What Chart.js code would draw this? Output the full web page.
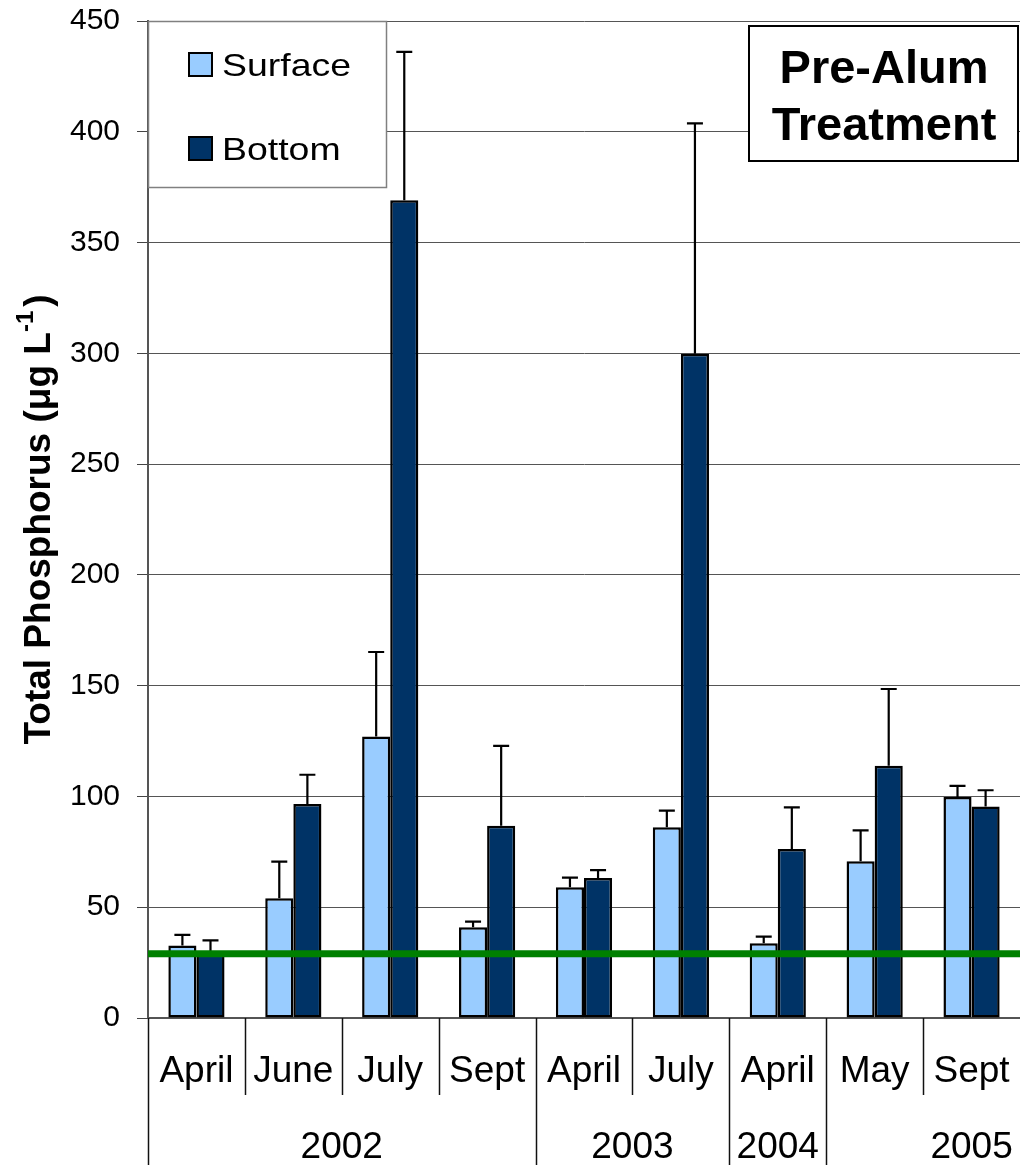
<!DOCTYPE html>
<html>
<head>
<meta charset="utf-8">
<script src="https://cdn.jsdelivr.net/npm/chart.js@4.4.1/dist/chart.umd.min.js"></script>
<style>
  html, body { margin: 0; padding: 0; background: #fff; overflow: hidden; }
  canvas { display: block; }
</style>
</head>
<body>
<canvas id="chart" width="1020" height="1165"></canvas>
<script>
// Sampling months and the year groups they belong to
const months = ['April', 'June', 'July', 'Sept', 'April', 'July', 'April', 'May', 'Sept'];
const yearLabels = ['2002', '2003', '2004', '2005'];
const yearStart = [0, 4, 6, 7];
const yearEnd = [4, 6, 7, 10];   // 2005 group runs on past the last month shown

// Mean total phosphorus (µg/L) and one standard deviation
const surfaceMean = [32.7, 54.0, 127.0, 41.0, 59.0, 86.1, 33.7, 70.7, 99.8];
const surfaceSD   = [4.8, 16.6, 38.2, 2.5, 4.4, 7.5, 3.0, 14.0, 5.0];
const bottomMean  = [29.0, 96.6, 369.1, 86.8, 63.2, 299.8, 76.3, 113.9, 95.5];
const bottomSD    = [6.0, 13.2, 67.0, 36.0, 3.5, 104.0, 18.8, 34.6, 7.3];

// Total phosphorus target level
const targetTP = 29;

// Value axis range
const yMin = 0, yMax = 450, yStep = 50;

const FONT = '"Liberation Sans", Arial, Helvetica, sans-serif';

const overlay = {
  id: 'overlay',
  afterDatasetsDraw(chart) {
    const { ctx, chartArea: a, scales: { y } } = chart;
    ctx.save();
    // upper error whiskers
    ctx.strokeStyle = '#000';
    ctx.lineWidth = 2.2;
    chart.data.datasets.forEach((ds, i) => {
      const meta = chart.getDatasetMeta(i);
      meta.data.forEach((bar, j) => {
        const top = y.getPixelForValue(ds.data[j] + ds.errors[j]);
        ctx.beginPath();
        ctx.moveTo(bar.x, bar.y);
        ctx.lineTo(bar.x, top);
        ctx.moveTo(bar.x - 8, top);
        ctx.lineTo(bar.x + 8, top);
        ctx.stroke();
      });
    });
    // target line
    const ty = y.getPixelForValue(targetTP);
    ctx.strokeStyle = '#008000';
    ctx.lineWidth = 7;
    ctx.beginPath();
    ctx.moveTo(a.left, ty);
    ctx.lineTo(a.right, ty);
    ctx.stroke();
    ctx.restore();
  },
  afterDraw(chart) {
    const { ctx, chartArea: a, scales: { x } } = chart;
    const H = chart.height;
    const w = x.getPixelForValue(1) - x.getPixelForValue(0);
    const edge = i => x.getPixelForValue(0) + (i - 0.5) * w;

    ctx.save();
    // category separators below the axis
    ctx.strokeStyle = '#111';
    ctx.lineWidth = 1.5;
    for (let i = 0; i < months.length; i++) {
      const ex = Math.round(edge(i)) + 0.5;
      const long = yearStart.includes(i);
      ctx.beginPath();
      ctx.moveTo(ex, a.bottom);
      ctx.lineTo(ex, long ? H : a.bottom + 77);
      ctx.stroke();
    }
    // year labels
    ctx.fillStyle = '#000';
    ctx.font = '37px ' + FONT;
    ctx.textAlign = 'center';
    ctx.textBaseline = 'alphabetic';
    yearLabels.forEach((lab, k) => {
      const cx = (edge(yearStart[k]) + edge(yearEnd[k])) / 2;
      ctx.fillText(lab, cx, 1158);
    });

    // legend box
    ctx.fillStyle = '#fff';
    ctx.fillRect(a.left, a.top, 239, 167);
    ctx.strokeStyle = '#808080';
    ctx.lineWidth = 1.5;
    ctx.strokeRect(a.left + 0.5, a.top + 0.5, 238, 166);
    const rows = [64.5, 148.5];
    chart.data.datasets.forEach((ds, i) => {
      const cy = rows[i];
      ctx.fillStyle = ds.backgroundColor;
      ctx.fillRect(189, cy - 11.5, 23, 23);
      ctx.strokeStyle = '#000';
      ctx.lineWidth = 2;
      ctx.strokeRect(189, cy - 11.5, 23, 23);
      ctx.save();
      ctx.translate(222, cy + 11.5);
      ctx.scale(1.17, 1);
      ctx.fillStyle = '#000';
      ctx.font = '32px ' + FONT;
      ctx.textAlign = 'left';
      ctx.textBaseline = 'alphabetic';
      ctx.fillText(ds.label, 0, 0);
      ctx.restore();
    });

    // title box
    ctx.fillStyle = '#fff';
    ctx.fillRect(748, 25, 271, 137);
    ctx.strokeStyle = '#000';
    ctx.lineWidth = 2;
    ctx.strokeRect(749, 26, 269, 135);
    ctx.fillStyle = '#000';
    ctx.font = 'bold 47px ' + FONT;
    ctx.textAlign = 'center';
    ctx.textBaseline = 'alphabetic';
    ctx.fillText('Pre-Alum', 884, 83);
    ctx.fillText('Treatment', 884, 140);

    // value axis title with superscript
    ctx.translate(50, (a.top + a.bottom) / 2);
    ctx.rotate(-Math.PI / 2);
    const main = 'bold 37px ' + FONT;
    const sup = 'bold 24px ' + FONT;
    const p1 = 'Total Phosphorus (\u03BCg L', p2 = '-1', p3 = ')';
    ctx.font = main;
    const w1 = ctx.measureText(p1).width, w3 = ctx.measureText(p3).width;
    ctx.font = sup;
    const w2 = ctx.measureText(p2).width;
    let sx = -(w1 + w2 + w3 + 4) / 2;
    ctx.textAlign = 'left';
    ctx.font = main;
    ctx.fillText(p1, sx, 0);
    sx += w1;
    ctx.font = sup;
    ctx.fillText(p2, sx, -17);
    sx += w2 + 4;
    ctx.font = main;
    ctx.fillText(p3, sx, 0);
    ctx.restore();
  }
};

new Chart(document.getElementById('chart'), {
  type: 'bar',
  data: {
    labels: months,
    datasets: [
      {
        label: 'Surface',
        data: surfaceMean,
        errors: surfaceSD,
        backgroundColor: '#99CCFF',
        borderColor: '#000',
        borderWidth: 2.5,
        borderSkipped: false
      },
      {
        label: 'Bottom',
        data: bottomMean,
        errors: bottomSD,
        backgroundColor: '#003366',
        borderColor: '#000',
        borderWidth: 2.5,
        borderSkipped: false
      }
    ]
  },
  options: {
    responsive: false,
    devicePixelRatio: 1,
    animation: false,
    layout: { padding: { top: 21, left: 0, right: 0, bottom: 0 } },
    datasets: { bar: { categoryPercentage: 0.58, barPercentage: 1.0 } },
    plugins: {
      legend: { display: false },
      tooltip: { enabled: false },
      title: { display: false }
    },
    scales: {
      x: {
        offset: true,
        grid: { display: false, drawTicks: false },
        border: { display: true, color: '#555', width: 1.5 },
        ticks: {
          color: '#000',
          font: { family: FONT, size: 37 },
          padding: 32,
          maxRotation: 0,
          autoSkip: false
        },
        afterFit(scale) {
          scale.height = 147;
          scale.paddingLeft = 0;
          scale.paddingRight = 0;
          scale.paddingTop = 0;
          scale.paddingBottom = 0;
        }
      },
      y: {
        min: yMin,
        max: yMax,
        ticks: {
          stepSize: yStep,
          color: '#000',
          font: { family: FONT, size: 30 },
          padding: 17
        },
        grid: {
          color: '#555',
          lineWidth: 1,
          drawTicks: true,
          tickLength: 11,
          tickColor: '#444'
        },
        border: { display: true, color: '#555', width: 2 },
        afterFit(scale) {
          scale.width = 148;
          scale.paddingLeft = 0;
          scale.paddingRight = 0;
          scale.paddingTop = 0;
          scale.paddingBottom = 0;
        }
      }
    }
  },
  plugins: [overlay]
});
</script>
</body>
</html>
